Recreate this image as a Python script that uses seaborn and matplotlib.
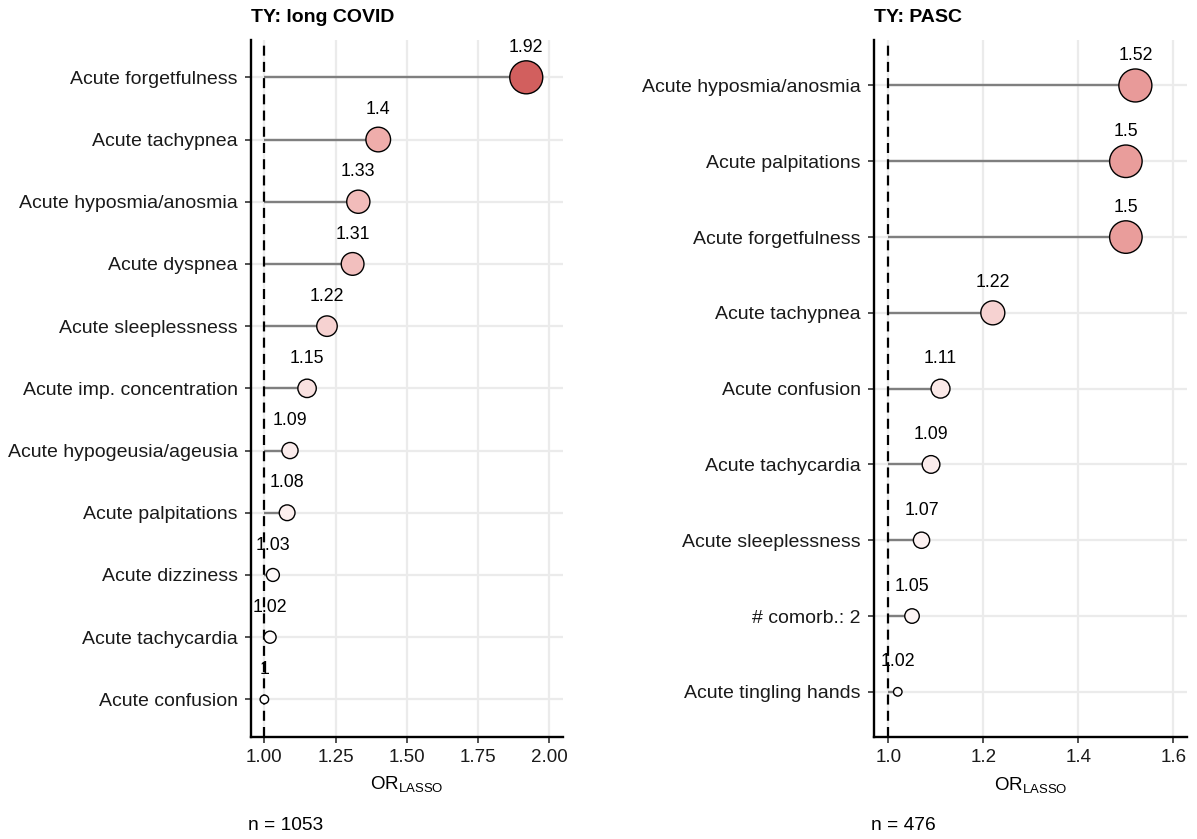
import numpy as np
import pandas as pd
import matplotlib
matplotlib.use("Agg")
import matplotlib.pyplot as plt
from matplotlib.colors import LinearSegmentedColormap, to_hex
import seaborn as sns

# ---- data -------------------------------------------------------------
long_covid_labels = [
    "Acute forgetfulness", "Acute tachypnea", "Acute hyposmia/anosmia",
    "Acute dyspnea", "Acute sleeplessness", "Acute imp. concentration",
    "Acute hypogeusia/ageusia", "Acute palpitations", "Acute dizziness",
    "Acute tachycardia", "Acute confusion",
]
long_covid_or = [1.92, 1.40, 1.33, 1.31, 1.22, 1.15, 1.09, 1.08, 1.03, 1.02, 1.00]
long_covid_n = 1053

pasc_labels = [
    "Acute hyposmia/anosmia", "Acute palpitations", "Acute forgetfulness",
    "Acute tachypnea", "Acute confusion", "Acute tachycardia",
    "Acute sleeplessness", "# comorb.: 2", "Acute tingling hands",
]
pasc_or = [1.52, 1.50, 1.50, 1.22, 1.11, 1.09, 1.07, 1.05, 1.02]
pasc_n = 476

long_covid_xticks = [1.00, 1.25, 1.50, 1.75, 2.00]
long_covid_xticklabels = ["1.00", "1.25", "1.50", "1.75", "2.00"]
pasc_xticks = [1.0, 1.2, 1.4, 1.6]
pasc_xticklabels = ["1.0", "1.2", "1.4", "1.6"]

# ---- style ------------------------------------------------------------
sns.set_theme(style="white")
plt.rcParams["font.family"] = ["Liberation Sans", "DejaVu Sans"]
plt.rcParams["mathtext.default"] = "regular"

fill_cmap = LinearSegmentedColormap.from_list(
    "or_fill", [(0.0, "#FFFFFF"), (0.45, "#EEAAA8"), (1.0, "#D25F5E")]
)
fill_lo, fill_hi = 1.0, 1.92          # shared fill scale across panels
d_min_px, d_max_px = 8.5, 33.0        # point diameters (per-panel scale)

W, H = 1197, 839
fig = plt.figure(figsize=(W / 100, H / 100), dpi=100)
ax_left = fig.add_axes([250.7 / W, 1 - 736.7 / H, 312.0 / W, 696.7 / H])
ax_right = fig.add_axes([874.0 / W, 1 - 737.3 / H, 312.7 / W, 697.3 / H])


def lollipop(ax, labels, values, xlim, xticks, xticklabels, title, n):
    df = pd.DataFrame({"label": labels, "value": values,
                       "pos": np.arange(len(labels))})
    vmin, vmax = df["value"].min(), df["value"].max()

    palette = {}
    sizes = {}
    for v in df["value"].unique():
        palette[v] = to_hex(fill_cmap((v - fill_lo) / (fill_hi - fill_lo)))
        d = d_min_px + (d_max_px - d_min_px) * np.sqrt((v - vmin) / (vmax - vmin))
        sizes[v] = (d * 0.72) ** 2

    ax.set_axisbelow(True)
    ax.grid(True, color="#EBEBEB", lw=1.6)

    ax.hlines(df["pos"], 1.0, df["value"], color="#7F7F7F", lw=1.7, zorder=2)
    ax.axvline(1.0, color="black", lw=1.6, ls=(0, (4.5, 2.8)), zorder=3)

    sns.scatterplot(data=df, x="value", y="pos", hue="value", palette=palette,
                    size="value", sizes=sizes, edgecolor="black", linewidth=1.0,
                    legend=False, ax=ax, zorder=4)

    for v, p in zip(df["value"], df["pos"]):
        ax.annotate(f"{round(v, 2):g}", (v, p), xytext=(0, 21.5),
                    textcoords="offset points", ha="center", va="center",
                    fontsize=12.8, color="black", zorder=5)

    ax.set_xlim(*xlim)
    ax.set_ylim(len(labels) - 1 + 0.6, -0.6)
    ax.set_xticks(xticks)
    ax.set_xticklabels(xticklabels)
    ax.set_yticks(df["pos"])
    ax.set_yticklabels(df["label"])
    ax.set_ylabel("")
    ax.set_xlabel(r"OR$_{\mathregular{LASSO}}$", fontsize=13.5, color="black")
    ax.xaxis.set_label_coords(0.5, -0.068)
    ax.xaxis.label.set_va("center")

    ax.tick_params(axis="x", labelsize=13.5, labelcolor="#1A1A1A", bottom=True,
                   length=4.5, width=1.2, color="#333333", pad=4)
    ax.tick_params(axis="y", labelsize=14, labelcolor="#1A1A1A", left=True,
                   length=4.5, width=1.2, color="#333333", pad=5)

    sns.despine(ax=ax)
    for side in ("left", "bottom"):
        ax.spines[side].set_color("black")
        ax.spines[side].set_linewidth(1.7)

    x0 = ax.get_position().x0
    fig.text(x0 + 0.5 / W, 1 - 17 / H, title, fontsize=14, fontweight="bold",
             ha="left", va="center", color="black")
    fig.text(x0 - 2.5 / W, 1 - 825 / H, f"n = {n}", fontsize=13.8,
             ha="left", va="center", color="black")


lollipop(ax_left, long_covid_labels, long_covid_or, (0.952, 2.048),
         long_covid_xticks, long_covid_xticklabels, "TY: long COVID", long_covid_n)
lollipop(ax_right, pasc_labels, pasc_or, (0.970, 1.628),
         pasc_xticks, pasc_xticklabels, "TY: PASC", pasc_n)

fig.savefig("out.png", dpi=100, facecolor="white")
